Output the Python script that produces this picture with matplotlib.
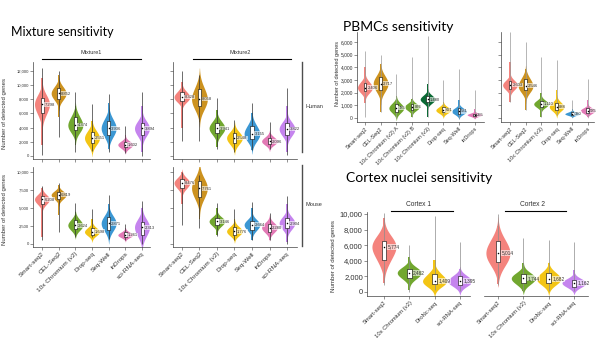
import numpy as np
import pandas as pd
import matplotlib
matplotlib.use("Agg")
import matplotlib.pyplot as plt
import seaborn as sns

W, H = 600, 338

# ---------- data ----------
# each row: whisker low, body low, q1, median, q3, body high, whisker high

mix_methods = ["Smart-seq2", "CEL-Seq2", "10x Chromium (v2)", "Drop-seq",
               "Seq-Well", "inDrops", "sci-RNA-seq"]

mix1_human = [
    [200, 1500, 6000, 7298, 8200, 11000, 12400],
    [2700, 5500, 8100, 8852, 9600, 11500, 12000],
    [500, 1500, 3700, 4374, 5500, 7000, 9000],
    [700, 900, 1800, 2551, 3400, 5000, 7400],
    [500, 1000, 3000, 3936, 5000, 7500, 8700],
    [400, 500, 1200, 1602, 2000, 3000, 4200],
    [0, 500, 3000, 3894, 4700, 7000, 9000],
]
mix2_human = [
    [2100, 4000, 7800, 8328, 9000, 10500, 12000],
    [2100, 4800, 7000, 8058, 9500, 10000, 11500],
    [1000, 1200, 3200, 3941, 4700, 6500, 8200],
    [500, 600, 1800, 2548, 3200, 4200, 5100],
    [800, 900, 2400, 3155, 4200, 6000, 7500],
    [1000, 1000, 1700, 2096, 2600, 3200, 4800],
    [100, 500, 3000, 3822, 4600, 7000, 9600],
]
mix1_mouse = [
    [500, 1000, 5600, 6208, 6700, 7800, 8000],
    [1600, 4000, 6300, 6819, 7200, 8200, 8500],
    [1000, 1200, 2100, 2624, 3300, 4500, 5700],
    [1000, 1000, 1300, 1698, 2200, 3500, 4800],
    [700, 800, 2000, 2871, 3700, 5500, 6800],
    [600, 600, 1000, 1261, 1600, 2200, 2800],
    [0, 300, 1200, 2313, 3100, 5000, 6000],
]
mix2_mouse = [
    [2600, 5500, 7800, 8476, 9000, 10000, 10000],
    [2200, 3500, 6500, 7761, 8800, 9500, 9600],
    [1100, 1300, 2600, 3146, 3600, 5000, 5700],
    [500, 600, 1300, 1776, 2300, 3500, 4800],
    [500, 600, 2000, 2664, 3200, 5000, 5900],
    [500, 600, 1700, 2280, 2800, 3500, 4300],
    [0, 300, 2200, 2904, 3600, 5500, 6600],
]

pbmc1_methods = ["Smart-seq2", "CEL-Seq2", "10x Chromium (v2) A", "10x Chromium (v2) B",
                 "10x Chromium (v3)", "Drop-seq", "Seq-Well", "inDrops"]
pbmc1 = [
    [100, 1200, 2100, 2406, 2800, 4000, 5300],
    [500, 500, 2200, 2717, 3200, 4300, 5000],
    [0, 50, 500, 785, 1100, 1700, 3500],
    [50, 100, 650, 876, 1100, 1500, 4800],
    [100, 100, 1250, 1480, 1750, 2700, 6500],
    [200, 200, 450, 621, 850, 1300, 3000],
    [0, 50, 350, 531, 750, 1400, 3900],
    [0, 50, 150, 255, 350, 700, 2200],
]
pbmc2_methods = ["Smart-seq2", "CEL-Seq2", "10x Chromium (v3)", "Drop-seq", "Seq-Well", "inDrops"]
pbmc2 = [
    [1300, 1300, 2300, 2603, 2900, 4450, 6800],
    [600, 600, 2200, 2546, 3100, 3900, 6000],
    [100, 100, 900, 1110, 1350, 2000, 4800],
    [250, 250, 650, 888, 1200, 2200, 4600],
    [100, 100, 250, 330, 450, 700, 1400],
    [100, 100, 400, 585, 750, 1400, 3050],
]

cortex_methods = ["Smart-seq2", "10x Chromium (v2)", "DroNc-seq", "sci-RNA-seq"]
cortex1 = [
    [900, 1100, 4100, 5774, 6600, 9500, 10100],
    [0, 200, 1800, 2462, 3000, 4500, 6000],
    [200, 200, 1000, 1409, 2300, 4100, 9700],
    [100, 100, 900, 1395, 2000, 3000, 6400],
]
cortex2 = [
    [900, 1000, 3800, 5014, 6500, 8500, 10000],
    [100, 100, 1100, 1744, 2300, 3700, 6900],
    [100, 100, 1100, 1682, 2400, 3700, 6700],
    [100, 100, 700, 1162, 1600, 2800, 6400],
]

mix_colors = ["#F4837D", "#CC921F", "#71A72F", "#F3C515", "#3B97D3", "#E279B5", "#C584EE"]
pbmc1_colors = ["#F4837D", "#CC921F", "#71A72F", "#71A72F", "#0B6A35", "#F3C515", "#3B97D3", "#E279B5"]
pbmc2_colors = ["#F4837D", "#CC921F", "#71A72F", "#F3C515", "#3B97D3", "#E279B5"]
cortex_colors = ["#F4837D", "#71A72F", "#F3C515", "#C584EE"]

# ---------- helpers ----------
fig = plt.figure(figsize=(W / 100, H / 100), dpi=100)
TICK_FONT = "Liberation Sans"


def px_axes(x0, y0, x1, y1):
    return fig.add_axes([x0 / W, 1 - y1 / H, (x1 - x0) / W, (y1 - y0) / H])


def draw_violins(ax, names, stats, colors, tail_color, width=0.9, lab_size=3):
    # bulge of the violin from the quartiles and median
    rows = []
    for name, s in zip(names, stats):
        lo, blo, q1, med, q3, bhi, hi = s
        for v in (q1, med, med, q3):
            rows.append((name, v))
    df = pd.DataFrame(rows, columns=["method", "genes"])
    sns.violinplot(data=df, x="method", y="genes", hue="method", order=names,
                   hue_order=names, palette=colors, legend=False, inner=None,
                   cut=2.5, bw_adjust=1.5, density_norm="width", width=width,
                   linewidth=0, saturation=1, ax=ax)
    x = np.arange(len(names))
    lo, blo, q1, med, q3, bhi, hi = np.array(stats, dtype=float).T
    # thin coloured tails of the body
    ax.bar(x, bhi - blo, bottom=blo, width=0.09, color=colors, lw=0, zorder=1.5)
    ax.vlines(x, lo, hi, color=tail_color, lw=0.5, zorder=2)
    ax.bar(x, q3 - q1, bottom=q1, width=0.18, color="white", edgecolor="black",
           lw=0.4, zorder=3)
    ax.scatter(x, med, s=1.2, color="black", zorder=4, linewidths=0)
    for xi, m in zip(x, med):
        ax.text(xi + 0.15, m, f"{int(m):,}", fontsize=lab_size, va="center", ha="left",
                color="0.2", family=TICK_FONT, zorder=5,
                bbox=dict(boxstyle="square,pad=0.1", fc="white", ec="none", alpha=0.6))


def style(ax, xlim, ylim, yticks, ylabels, names, labels=True, left=True,
          ysize=3, xsize=4.6):
    ax.set_xlim(xlim)
    ax.set_ylim(ylim)
    ax.set_facecolor("none")
    ax.set_xlabel("")
    ax.set_ylabel("")
    for sp in ("top", "right"):
        ax.spines[sp].set_visible(False)
    for sp in ("left", "bottom"):
        ax.spines[sp].set_linewidth(0.5)
        ax.spines[sp].set_color("0.25")
    ax.spines["left"].set_visible(left)
    ax.set_yticks(yticks if left else [])
    if left:
        ax.set_yticklabels(ylabels)
    ax.set_xticks(np.arange(len(names)))
    if labels:
        ax.set_xticklabels(names, rotation=45, ha="right", rotation_mode="anchor")
    else:
        ax.set_xticklabels([])
    ax.tick_params(length=2, width=0.4, pad=1, colors="0.25", labelcolor="0.2")
    ax.tick_params(axis="y", labelsize=ysize)
    ax.tick_params(axis="x", labelsize=xsize)
    for t in ax.get_xticklabels() + ax.get_yticklabels():
        t.set_family(TICK_FONT)


def ftext(x, y, s, **kw):
    fig.text(x / W, 1 - y / H, s, **kw)


def hline(x0, x1, y, lw=0.8, color="black"):
    fig.add_artist(plt.Line2D([x0 / W, x1 / W], [1 - y / H, 1 - y / H], lw=lw, color=color))


def vline(x, y0, y1, lw=1.0, color="0.3"):
    fig.add_artist(plt.Line2D([x / W, x / W], [1 - y0 / H, 1 - y1 / H], lw=lw, color=color))


def fmt(vals):
    return [f"{v:,}" for v in vals]


# ---------- Mixture sensitivity ----------
human_ticks = [0, 2000, 4000, 6000, 8000, 10000, 12000]
mouse_ticks = [0, 2500, 5000, 7500, 10000]
h_ylim = (-424, 13270)
m_ylim = (-417, 10694)

ax = px_axes(33, 62, 150, 159)
draw_violins(ax, mix_methods, mix1_human, mix_colors, "0.2")
style(ax, (-0.54, 6.48), h_ylim, human_ticks, fmt(human_ticks), mix_methods, labels=False)

ax = px_axes(173, 62, 297, 159)
draw_violins(ax, mix_methods, mix2_human, mix_colors, "0.2")
style(ax, (-0.51, 6.57), h_ylim, human_ticks, [], mix_methods, labels=False)

ax = px_axes(33, 167, 150, 247)
draw_violins(ax, mix_methods, mix1_mouse, mix_colors, "0.2")
style(ax, (-0.54, 6.48), m_ylim, mouse_ticks, fmt(mouse_ticks), mix_methods)

ax = px_axes(173, 167, 297, 247)
draw_violins(ax, mix_methods, mix2_mouse, mix_colors, "0.2")
style(ax, (-0.51, 6.57), m_ylim, mouse_ticks, [], mix_methods)

ftext(11, 36, "Mixture sensitivity", fontsize=9, family="Lato", va="baseline")
ftext(91, 53, "Mixture1", fontsize=4, family=TICK_FONT, ha="center", va="center", color="0.2")
ftext(240, 53, "Mixture2", fontsize=4, family=TICK_FONT, ha="center", va="center", color="0.2")
hline(42, 141, 59)
hline(193, 291, 59)
vline(302, 62, 152)
vline(302, 165, 246)
ftext(305, 107, "Human", fontsize=4, family=TICK_FONT, va="center", color="0.2")
ftext(305, 205, "Mouse", fontsize=4, family=TICK_FONT, va="center", color="0.2")
ftext(5, 114, "Number of detected genes", fontsize=4.3, family=TICK_FONT, rotation=90,
      ha="center", va="center", color="0.2")
ftext(5, 210, "Number of detected genes", fontsize=4.3, family=TICK_FONT, rotation=90,
      ha="center", va="center", color="0.2")

# ---------- PBMCs sensitivity ----------
p_ticks = [0, 1000, 2000, 3000, 4000, 5000, 6000]
p_ylim = (-316, 6789)

ax = px_axes(357, 32, 484, 122)
draw_violins(ax, pbmc1_methods, pbmc1, pbmc1_colors, "0.6", width=0.95)
style(ax, (-0.51, 7.6), p_ylim, p_ticks, fmt(p_ticks), pbmc1_methods, ysize=3.5, xsize=4)

ax = px_axes(501, 32, 594, 122)
draw_violins(ax, pbmc2_methods, pbmc2, pbmc2_colors, "0.6", width=0.95)
style(ax, (-0.58, 5.4), p_ylim, p_ticks, [], pbmc2_methods, xsize=4)

ftext(343, 31, "PBMCs sensitivity", fontsize=10, family="Lato", va="baseline")
ftext(337, 73, "Number of detected genes", fontsize=4, family=TICK_FONT, rotation=90,
      ha="center", va="center", color="0.2")

# ---------- Cortex nuclei sensitivity ----------
c_ticks = [0, 2000, 4000, 6000, 8000, 10000]
c_ylim = (-513, 10256)

ax = px_axes(367, 212, 470, 296)
draw_violins(ax, cortex_methods, cortex1, cortex_colors, "0.55", width=0.95, lab_size=3.4)
style(ax, (-0.67, 3.4), c_ylim, c_ticks, fmt(c_ticks), cortex_methods, ysize=5.5, xsize=4.2)

ax = px_axes(484, 212, 588, 296)
draw_violins(ax, cortex_methods, cortex2, cortex_colors, "0.55", width=0.95, lab_size=3.4)
style(ax, (-0.55, 3.55), c_ylim, c_ticks, [], cortex_methods, left=False, xsize=4.2)

ftext(346, 182, "Cortex nuclei sensitivity", fontsize=10, family="Lato", va="baseline")
ftext(418, 205, "Cortex 1", fontsize=4.8, family=TICK_FONT, ha="center", va="center", color="0.2")
ftext(533, 205, "Cortex 2", fontsize=4.8, family=TICK_FONT, ha="center", va="center", color="0.2")
hline(391, 453, 211)
hline(505, 566, 211)
ftext(333, 256, "Number of detected genes", fontsize=4.4, family=TICK_FONT, rotation=90,
      ha="center", va="center", color="0.2")

fig.savefig("out.png", dpi=100)
